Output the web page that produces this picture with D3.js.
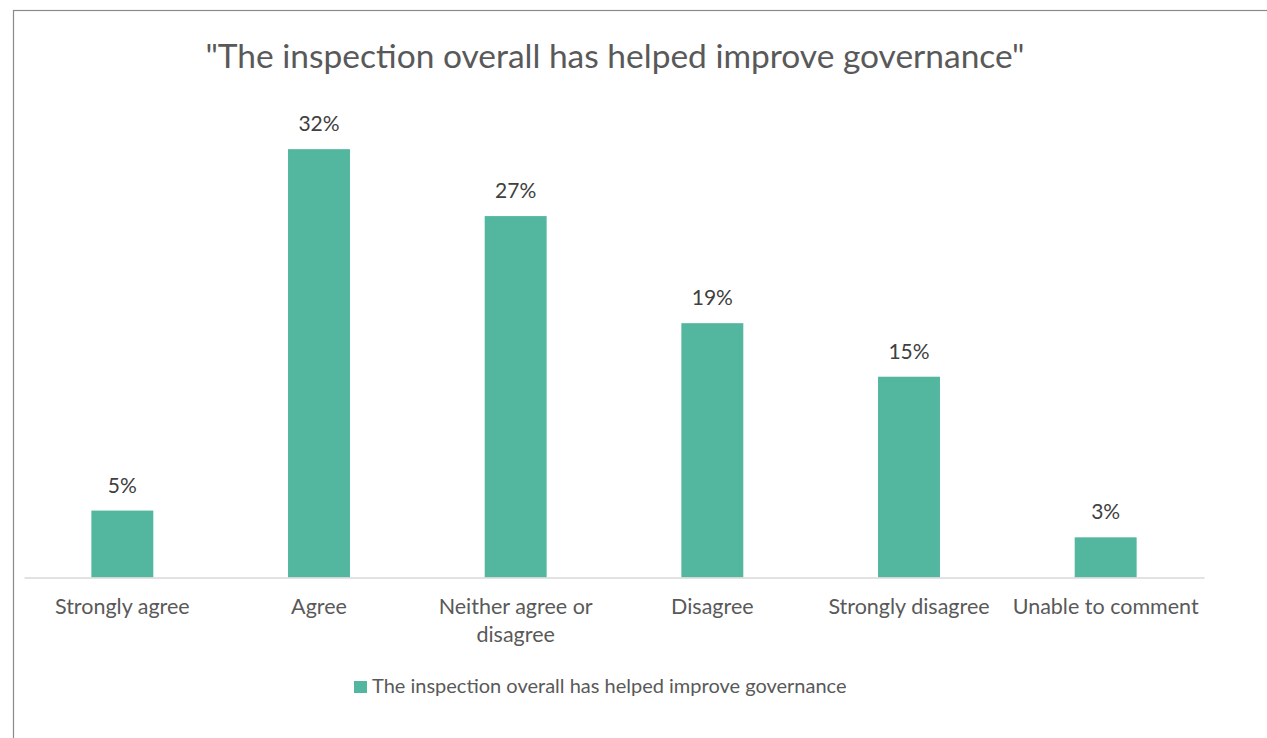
<!DOCTYPE html>
<html>
<head>
<meta charset="utf-8">
<script src="https://cdn.jsdelivr.net/npm/d3@7"></script>
<style>
  html, body { margin: 0; padding: 0; background: #ffffff; }
  svg { display: block; }
  text { font-family: Lato, "Open Sans", sans-serif; }
</style>
</head>
<body>
<svg id="chart" width="1267" height="738"></svg>
<script>
// Survey responses (percent of respondents)
const categories = [
  ["Strongly agree"],
  ["Agree"],
  ["Neither agree or", "disagree"],
  ["Disagree"],
  ["Strongly disagree"],
  ["Unable to comment"]
];
const values = [5, 32, 27, 19, 15, 3];
const seriesName = "The inspection overall has helped improve governance";
const titleText = "\"The inspection overall has helped improve governance\"";

const svg = d3.select("#chart");
const W = 1267, H = 738;
const barColor = "#52b79e";

// Outer chart frame
svg.append("rect")
  .attr("x", 13.5).attr("y", 10.5)
  .attr("width", W + 20).attr("height", H + 20)
  .attr("fill", "none")
  .attr("stroke", "#8a8a8a")
  .attr("stroke-width", 1.2);

const plot = { left: 24, right: 1204, top: 109, bottom: 577.5 };

const x = d3.scaleBand()
  .domain(d3.range(values.length))
  .range([plot.left, plot.right])
  .paddingInner(0.685)
  .paddingOuter(0.3425);

const y = d3.scaleLinear()
  .domain([0, 35])
  .range([plot.bottom, plot.top]);

// Title
svg.append("text")
  .attr("x", 615).attr("y", 68)
  .attr("text-anchor", "middle")
  .attr("font-size", 33.5)
  .attr("fill", "#595959")
  .text(titleText);

// Bars
svg.append("g").selectAll("rect")
  .data(values)
  .join("rect")
  .attr("x", (d, i) => x(i))
  .attr("width", x.bandwidth())
  .attr("y", d => y(d))
  .attr("height", d => y(0) - y(d))
  .attr("fill", barColor);

// Data labels
svg.append("g").selectAll("text")
  .data(values)
  .join("text")
  .attr("x", (d, i) => x(i) + x.bandwidth() / 2)
  .attr("y", d => y(d) - 18)
  .attr("text-anchor", "middle")
  .attr("font-size", 21)
  .attr("fill", "#404040")
  .text(d => d + "%");

// Category axis
const axis = svg.append("g")
  .attr("transform", `translate(0,${plot.bottom})`)
  .call(d3.axisBottom(x).tickSize(0).tickFormat(""));
axis.select(".domain")
  .attr("stroke", "#d9d9d9")
  .attr("stroke-width", 1.5);

const labels = svg.append("g").selectAll("text")
  .data(categories)
  .join("text")
  .attr("x", (d, i) => x(i) + x.bandwidth() / 2)
  .attr("y", 614)
  .attr("text-anchor", "middle")
  .attr("font-size", 21.5)
  .attr("fill", "#595959");
labels.selectAll("tspan")
  .data(d => d)
  .join("tspan")
  .attr("x", function () { return this.parentNode.getAttribute("x"); })
  .attr("dy", (d, i) => i === 0 ? 0 : 28)
  .text(d => d);

// Legend
const legend = svg.append("g");
legend.append("rect")
  .attr("x", 354).attr("y", 681)
  .attr("width", 13).attr("height", 12)
  .attr("fill", barColor);
legend.append("text")
  .attr("x", 372).attr("y", 693)
  .attr("font-size", 20)
  .attr("fill", "#595959")
  .text(seriesName);
</script>
</body>
</html>
